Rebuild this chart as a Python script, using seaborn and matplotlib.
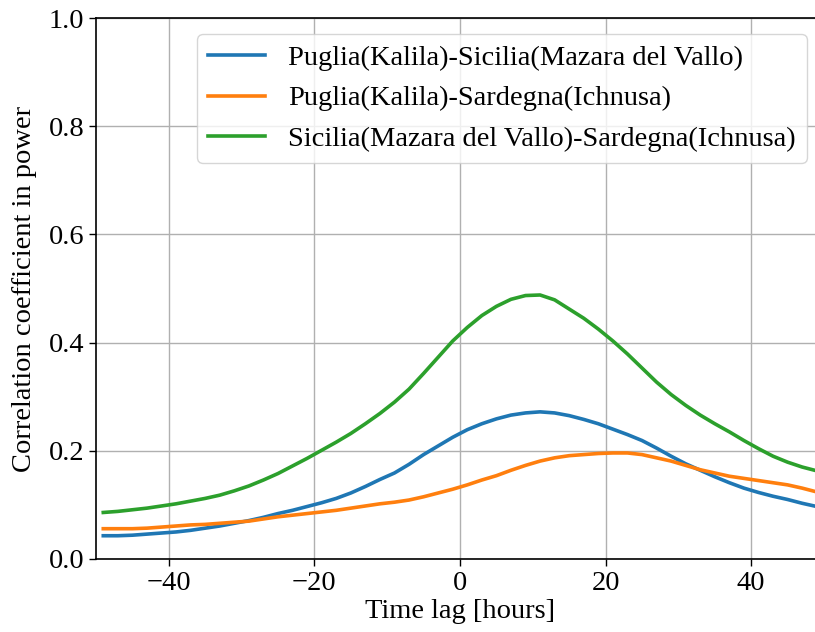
import numpy as np
import pandas as pd
import matplotlib
matplotlib.use("Agg")
import matplotlib.pyplot as plt
import seaborn as sns

# Time lag (hours) at which the cross-correlation was sampled
lags = list(range(-49, 50, 2))

# Correlation coefficient in power for each pair of sites
puglia_sicilia = [0.043, 0.043, 0.044, 0.046, 0.048, 0.050, 0.053, 0.057,
                  0.061, 0.066, 0.071, 0.077, 0.084, 0.090, 0.097, 0.104,
                  0.112, 0.122, 0.134, 0.147, 0.159, 0.175, 0.193, 0.209,
                  0.225, 0.239, 0.250, 0.259, 0.266, 0.270, 0.272, 0.270,
                  0.265, 0.258, 0.250, 0.240, 0.230, 0.219, 0.205, 0.190,
                  0.176, 0.164, 0.152, 0.141, 0.131, 0.123, 0.116, 0.110,
                  0.103, 0.097]
puglia_sardegna = [0.056, 0.056, 0.056, 0.057, 0.059, 0.061, 0.063, 0.064,
                   0.066, 0.068, 0.070, 0.074, 0.078, 0.081, 0.084, 0.087,
                   0.090, 0.094, 0.098, 0.102, 0.105, 0.109, 0.115, 0.122,
                   0.129, 0.137, 0.146, 0.154, 0.164, 0.173, 0.181, 0.187,
                   0.191, 0.193, 0.195, 0.196, 0.196, 0.193, 0.187, 0.181,
                   0.173, 0.165, 0.159, 0.153, 0.149, 0.145, 0.141, 0.137,
                   0.131, 0.124]
sicilia_sardegna = [0.086, 0.088, 0.091, 0.094, 0.098, 0.102, 0.107, 0.112,
                    0.118, 0.126, 0.135, 0.146, 0.158, 0.172, 0.186, 0.201,
                    0.216, 0.232, 0.250, 0.269, 0.290, 0.314, 0.343, 0.373,
                    0.403, 0.428, 0.450, 0.467, 0.480, 0.487, 0.488, 0.479,
                    0.462, 0.445, 0.425, 0.403, 0.379, 0.353, 0.327, 0.304,
                    0.284, 0.266, 0.250, 0.235, 0.219, 0.204, 0.190, 0.179,
                    0.170, 0.163]

pair_names = ["Puglia(Kalila)-Sicilia(Mazara del Vallo)",
              "Puglia(Kalila)-Sardegna(Ichnusa)",
              "Sicilia(Mazara del Vallo)-Sardegna(Ichnusa)"]

frames = []
for name, vals in zip(pair_names, [puglia_sicilia, puglia_sardegna, sicilia_sardegna]):
    frames.append(pd.DataFrame({"lag": lags, "corr": vals, "pair": name}))
df = pd.concat(frames, ignore_index=True)

FS = 20.5
plt.rcParams["font.family"] = ["Liberation Serif", "DejaVu Serif"]
plt.rcParams["font.size"] = FS

fig = plt.figure(figsize=(8.15, 6.32), dpi=100)
ax = fig.add_axes([96 / 815, 73 / 632, 728 / 815, 541 / 632])

sns.lineplot(data=df, x="lag", y="corr", hue="pair", hue_order=pair_names,
             palette=["#1f77b4", "#ff7f0e", "#2ca02c"], linewidth=2.6,
             ax=ax, legend=False)

ax.set_xlim(-50, 50)
ax.set_ylim(0, 1.0)
ax.set_xticks([-40, -20, 0, 20, 40])
ax.set_yticks([0.0, 0.2, 0.4, 0.6, 0.8, 1.0])
ax.grid(True, color="#b0b0b0", linewidth=1.0)
ax.set_axisbelow(True)
ax.set_xlabel("Time lag [hours]", fontsize=FS, labelpad=2)
ax.set_ylabel("Correlation coefficient in power", fontsize=FS, labelpad=8)
ax.tick_params(labelsize=FS, width=1.0, length=5)
for sp in ax.spines.values():
    sp.set_linewidth(1.2)

handles = ax.get_lines()[:3]
ax.legend(handles, pair_names, loc="upper right",
          bbox_to_anchor=(807 / 815, 1 - 34 / 632),
          bbox_transform=fig.transFigure, borderaxespad=0,
          fontsize=FS, framealpha=0.8)

fig.savefig("out.png", dpi=100)
